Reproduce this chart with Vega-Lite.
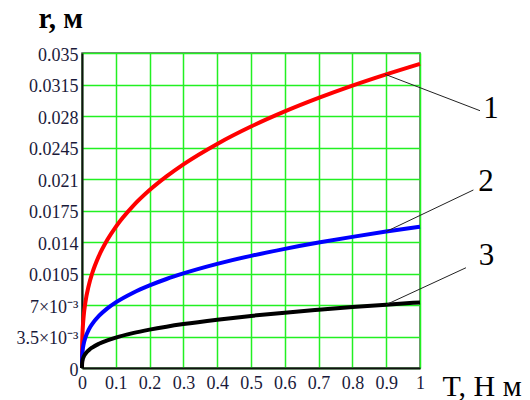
{
  "$schema": "https://vega.github.io/schema/vega-lite/v6.json",
  "width": 338,
  "height": 315,
  "autosize": {"type": "none"},
  "padding": {"left": 82, "top": 53, "right": 110, "bottom": 32},
  "background": "white",
  "config": {
    "view": {"stroke": "#555555", "strokeWidth": 1.5}
  },
  "datasets": {
    "curves": [
      {"s": "1", "T": 0, "r": 0},
      {"s": "1", "T": 0.0001, "r": 0.00157},
      {"s": "1", "T": 0.0005, "r": 0.00268},
      {"s": "1", "T": 0.001, "r": 0.00338},
      {"s": "1", "T": 0.002, "r": 0.00426},
      {"s": "1", "T": 0.005, "r": 0.00578},
      {"s": "1", "T": 0.01, "r": 0.00728},
      {"s": "1", "T": 0.02, "r": 0.00917},
      {"s": "1", "T": 0.03, "r": 0.0105},
      {"s": "1", "T": 0.05, "r": 0.01245},
      {"s": "1", "T": 0.075, "r": 0.01425},
      {"s": "1", "T": 0.1, "r": 0.01569},
      {"s": "1", "T": 0.15, "r": 0.01796},
      {"s": "1", "T": 0.2, "r": 0.01977},
      {"s": "1", "T": 0.25, "r": 0.02129},
      {"s": "1", "T": 0.3, "r": 0.02263},
      {"s": "1", "T": 0.4, "r": 0.0249},
      {"s": "1", "T": 0.5, "r": 0.02683},
      {"s": "1", "T": 0.6, "r": 0.02851},
      {"s": "1", "T": 0.7, "r": 0.03001},
      {"s": "1", "T": 0.8, "r": 0.03138},
      {"s": "1", "T": 0.9, "r": 0.03263},
      {"s": "1", "T": 1.0, "r": 0.0338},
      {"s": "2", "T": 0, "r": 0},
      {"s": "2", "T": 0.0001, "r": 0.00073},
      {"s": "2", "T": 0.0005, "r": 0.00125},
      {"s": "2", "T": 0.001, "r": 0.00157},
      {"s": "2", "T": 0.002, "r": 0.00198},
      {"s": "2", "T": 0.005, "r": 0.00268},
      {"s": "2", "T": 0.01, "r": 0.00338},
      {"s": "2", "T": 0.02, "r": 0.00426},
      {"s": "2", "T": 0.03, "r": 0.00488},
      {"s": "2", "T": 0.05, "r": 0.00578},
      {"s": "2", "T": 0.075, "r": 0.00662},
      {"s": "2", "T": 0.1, "r": 0.00729},
      {"s": "2", "T": 0.15, "r": 0.00834},
      {"s": "2", "T": 0.2, "r": 0.00918},
      {"s": "2", "T": 0.25, "r": 0.00989},
      {"s": "2", "T": 0.3, "r": 0.01051},
      {"s": "2", "T": 0.4, "r": 0.01157},
      {"s": "2", "T": 0.5, "r": 0.01246},
      {"s": "2", "T": 0.6, "r": 0.01324},
      {"s": "2", "T": 0.7, "r": 0.01394},
      {"s": "2", "T": 0.8, "r": 0.01457},
      {"s": "2", "T": 0.9, "r": 0.01516},
      {"s": "2", "T": 1.0, "r": 0.0157},
      {"s": "3", "T": 0, "r": 0},
      {"s": "3", "T": 0.0001, "r": 0.00034},
      {"s": "3", "T": 0.0005, "r": 0.00058},
      {"s": "3", "T": 0.001, "r": 0.00073},
      {"s": "3", "T": 0.002, "r": 0.00092},
      {"s": "3", "T": 0.005, "r": 0.00125},
      {"s": "3", "T": 0.01, "r": 0.00157},
      {"s": "3", "T": 0.02, "r": 0.00198},
      {"s": "3", "T": 0.03, "r": 0.00227},
      {"s": "3", "T": 0.05, "r": 0.00269},
      {"s": "3", "T": 0.075, "r": 0.00307},
      {"s": "3", "T": 0.1, "r": 0.00338},
      {"s": "3", "T": 0.15, "r": 0.00387},
      {"s": "3", "T": 0.2, "r": 0.00426},
      {"s": "3", "T": 0.25, "r": 0.00459},
      {"s": "3", "T": 0.3, "r": 0.00488},
      {"s": "3", "T": 0.4, "r": 0.00537},
      {"s": "3", "T": 0.5, "r": 0.00579},
      {"s": "3", "T": 0.6, "r": 0.00615},
      {"s": "3", "T": 0.7, "r": 0.00647},
      {"s": "3", "T": 0.8, "r": 0.00677},
      {"s": "3", "T": 0.9, "r": 0.00704},
      {"s": "3", "T": 1.0, "r": 0.00729}
    ],
    "leaders": [
      {"s": "1", "T": 0.897, "r": 0.03263},
      {"s": "1", "T": 1.1775, "r": 0.02859},
      {"s": "2", "T": 0.9, "r": 0.01516},
      {"s": "2", "T": 1.158, "r": 0.01978},
      {"s": "3", "T": 0.9, "r": 0.00704},
      {"s": "3", "T": 1.136, "r": 0.01114}
    ],
    "labels": [
      {"s": "1", "T": 1.21, "r": 0.0288},
      {"s": "2", "T": 1.195, "r": 0.0207},
      {"s": "3", "T": 1.197, "r": 0.0125}
    ]
  },
  "encoding": {
    "x": {
      "field": "T", "type": "quantitative",
      "scale": {"domain": [0, 1], "nice": false, "zero": true},
      "axis": {
        "values": [0, 0.1, 0.2, 0.3, 0.4, 0.5, 0.6, 0.7, 0.8, 0.9, 1],
        "labelExpr": "format(datum.value, '.1~f')",
        "grid": true,
        "gridColor": "#22f022",
        "gridWidth": 1.5,
        "ticks": false,
        "domainColor": "#111111",
        "domainWidth": 2,
        "labelFont": "Liberation Serif",
        "labelFontSize": 18,
        "labelColor": "#1a1a3a",
        "labelOverlap": false,
        "labelFlush": false,
        "labelBound": false,
        "labelPadding": 6,
        "title": "T, Н м",
        "titleFont": "Liberation Serif",
        "titleColor": "#000000",
        "titleFontSize": 30,
        "titleFontWeight": "normal",
        "titleX": 360,
        "titleY": 27,
        "titleAlign": "left",
        "titleBaseline": "alphabetic"
      }
    },
    "y": {
      "field": "r", "type": "quantitative",
      "scale": {"domain": [0, 0.035], "nice": false, "zero": true},
      "axis": {
        "values": [0, 0.0035, 0.007, 0.0105, 0.014, 0.0175, 0.021, 0.0245, 0.028, 0.0315, 0.035],
        "labelExpr": "datum.value == 0.0035 ? '3.5×10⁻³' : datum.value == 0.007 ? '7×10⁻³' : format(datum.value, '.4~f')",
        "grid": true,
        "gridColor": "#22f022",
        "gridWidth": 1.5,
        "ticks": false,
        "domainColor": "#111111",
        "domainWidth": 2,
        "labelFont": "Liberation Serif",
        "labelFontSize": 18,
        "labelColor": "#1a1a3a",
        "labelOverlap": false,
        "labelFlush": false,
        "labelBound": false,
        "labelPadding": 4,
        "labelOffset": 2,
        "title": "r, м",
        "titleFont": "Liberation Serif",
        "titleColor": "#000000",
        "titleAngle": 0,
        "titleFontSize": 29,
        "titleFontWeight": "bold",
        "titleX": -44,
        "titleY": -26,
        "titleAlign": "left",
        "titleBaseline": "alphabetic"
      }
    }
  },
  "layer": [
    {
      "data": {"name": "curves"},
      "mark": {"type": "line", "strokeWidth": 4, "interpolate": "monotone"},
      "encoding": {
        "color": {
          "field": "s", "type": "nominal",
          "scale": {"domain": ["1", "2", "3"], "range": ["#ff0000", "#0000ff", "#000000"]},
          "legend": null
        }
      }
    },
    {
      "data": {"name": "leaders"},
      "mark": {"type": "line", "strokeWidth": 1, "color": "#222222"},
      "encoding": {
        "detail": {"field": "s"}
      }
    },
    {
      "data": {"name": "labels"},
      "mark": {"type": "text", "font": "Liberation Serif", "fontSize": 31, "align": "center", "baseline": "middle", "color": "#000000"},
      "encoding": {
        "text": {"field": "s"}
      }
    }
  ]
}
